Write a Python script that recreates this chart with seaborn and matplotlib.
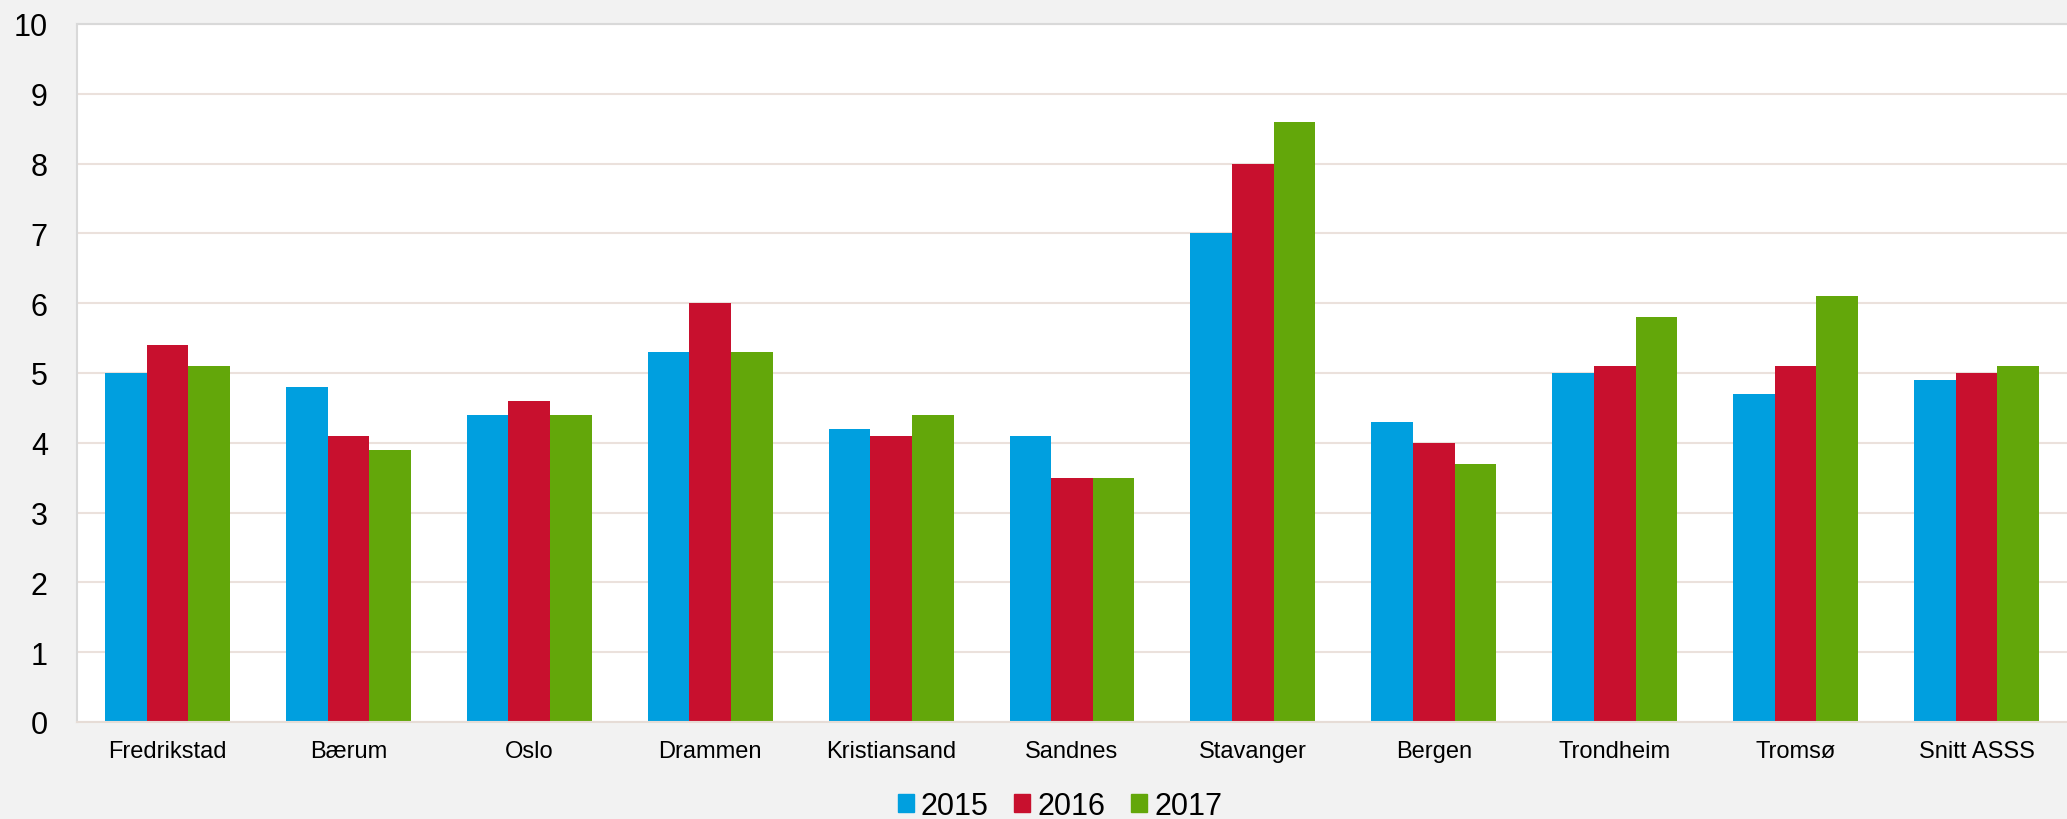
import numpy as np
import pandas as pd
import matplotlib.pyplot as plt
import seaborn as sns

# Values
cities = ['Fredrikstad', 'Bærum', 'Oslo', 'Drammen', 'Kristiansand', 'Sandnes',
          'Stavanger', 'Bergen', 'Trondheim', 'Tromsø', 'Snitt ASSS']
years = ['2015', '2016', '2017']
v2015 = [5.0, 4.8, 4.4, 5.3, 4.2, 4.1, 7.0, 4.3, 5.0, 4.7, 4.9]
v2016 = [5.4, 4.1, 4.6, 6.0, 4.1, 3.5, 8.0, 4.0, 5.1, 5.1, 5.0]
v2017 = [5.1, 3.9, 4.4, 5.3, 4.4, 3.5, 8.6, 3.7, 5.8, 6.1, 5.1]
colors = ['#009FDF', '#C8102E', '#63A70A']

df = pd.DataFrame({
    'by': cities * 3,
    'aar': np.repeat(years, len(cities)),
    'verdi': v2015 + v2016 + v2017,
})

sns.set_style('white')
plt.rcParams['font.family'] = ['Liberation Sans', 'DejaVu Sans']
plt.rcParams['text.color'] = 'black'
plt.rcParams['xtick.color'] = 'black'
plt.rcParams['ytick.color'] = 'black'

fig = plt.figure(figsize=(20.67, 8.2), dpi=100, facecolor='#f2f2f2')
ax = fig.add_axes([77 / 2067, 1 - 723 / 820, 1 - 77 / 2067, (723 - 25) / 820])
ax.set_facecolor('white')

sns.barplot(data=df, x='by', y='verdi', hue='aar', palette=colors,
            width=0.69, gap=0, saturation=1, linewidth=0, ax=ax, legend=True)

ax.set_ylim(0, 10)
ax.set_xlim(-0.5, len(cities) - 0.5)
ax.set_yticks(range(0, 11))
ax.set_xlabel('')
ax.set_ylabel('')
ax.yaxis.grid(True, color='#ebe1dc', linewidth=1.5)
ax.set_axisbelow(True)
ax.tick_params(axis='y', labelsize=22, length=0, pad=21, labelcolor='black')
ax.tick_params(axis='x', labelsize=17, length=0, pad=13, labelcolor='black')

for side in ['left', 'top']:
    ax.spines[side].set_color('#d9d9d9')
    ax.spines[side].set_linewidth(1.5)
ax.spines['bottom'].set_color('#e6dcd6')
ax.spines['bottom'].set_linewidth(1.5)
ax.spines['right'].set_visible(False)

ax.get_legend().remove()
handles = [plt.Rectangle((0, 0), 1, 1, color=c) for c in colors]
fig.legend(handles, years, loc='center', bbox_to_anchor=(1060 / 2067, 1 - 807 / 820),
           ncol=3, frameon=False, fontsize=22, handlelength=0.52, handleheight=0.52,
           handletextpad=0.23, columnspacing=0.85, borderpad=0, borderaxespad=0)

fig.savefig('out.png', dpi=100, facecolor=fig.get_facecolor())
